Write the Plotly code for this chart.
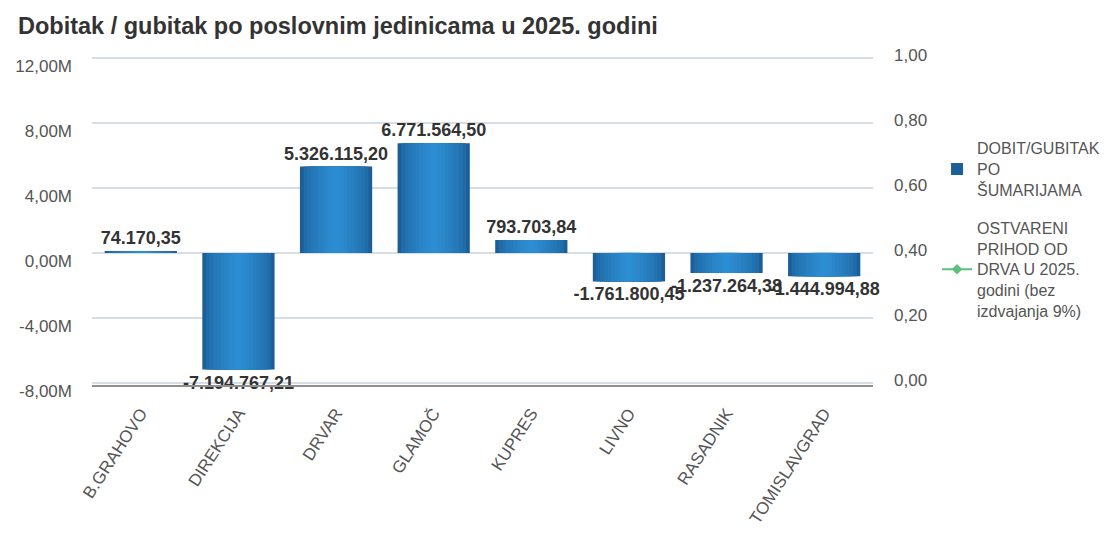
import plotly.graph_objects as go

categories = ["B.GRAHOVO", "DIREKCIJA", "DRVAR", "GLAMOČ", "KUPRES", "LIVNO", "RASADNIK", "TOMISLAVGRAD"]
profit = [74170.35, -7194767.21, 5326115.20, 6771564.50, 793703.84, -1761800.45, -1237264.38, -1444994.88]
income = [None] * len(categories)

left_ticks = [-8e6, -4e6, 0, 4e6, 8e6, 12e6]
right_ticks = [0, 0.2, 0.4, 0.6, 0.8, 1.0]

series1_name = "DOBIT/GUBITAK<br>PO<br>ŠUMARIJAMA"
series2_name = "OSTVARENI<br>PRIHOD OD<br>DRVA U 2025.<br>godini (bez<br>izdvajanja 9%)"
title = "Dobitak / gubitak po poslovnim jedinicama u 2025. godini"


def fmt_num(v):
    s = f"{v:,.2f}"
    return s.replace(",", "X").replace(".", ",").replace("X", ".")


def fmt_m(v):
    return f"{v/1e6:.2f}".replace(".", ",") + "M"


def mix(c1, c2, t):
    a = [int(c1[i:i + 2], 16) for i in (1, 3, 5)]
    b = [int(c2[i:i + 2], 16) for i in (1, 3, 5)]
    return "#" + "".join(f"{round(x + (y - x) * t):02x}" for x, y in zip(a, b))


FONT = "Liberation Sans, Arial, sans-serif"
fig = go.Figure()

# cylinder-like shading: stacked overlay bars of decreasing width
n_layers = 10
edge, centre = "#1c5f98", "#2d8dd2"
for i in range(n_layers):
    t = i / (n_layers - 1)
    w = 0.74 * (1 - t) + 0.08 * t
    c = mix(edge, centre, (t ** 0.6))
    fig.add_trace(go.Bar(
        x=categories, y=profit, width=w,
        marker=dict(color=c, line=dict(width=0)),
        name=series1_name, showlegend=(i == 0), legendgroup="g1",
        text=[fmt_num(v) for v in profit] if i == 0 else None,
        textposition="outside" if i == 0 else "none",
        textfont=dict(family=FONT, size=18, color="#333333", weight="bold"),
        constraintext="none", cliponaxis=False,
        hoverinfo="skip" if i > 0 else None,
    ))

fig.add_trace(go.Scatter(
    x=categories, y=income, yaxis="y2", mode="lines+markers",
    name=series2_name, legendgroup="g2",
    line=dict(color="#5cc07a", width=2),
    marker=dict(symbol="diamond", size=8, color="#5cc07a"),
))

pad = 0.15e6
fig.update_layout(
    width=1120, height=535,
    paper_bgcolor="white", plot_bgcolor="white",
    barmode="overlay",
    separators=",.",
    margin=dict(l=84, r=255, t=47.5, b=157.5, autoexpand=False),
    font=dict(family=FONT, size=17, color="#555555"),
    title=dict(text=title, x=10/1120, xref="container", xanchor="left",
               y=1 - 18/535, yref="container", yanchor="middle",
               font=dict(family=FONT, size=23.5, color="#333333", weight="bold")),
    xaxis=dict(
        type="category", tickangle=-57, showgrid=False, automargin=False,
        showline=True, linecolor="#8f8f8f", linewidth=1.5,
        ticks="", ticklabelstandoff=10,
        tickfont=dict(size=17, color="#555555"),
    ),
    yaxis=dict(
        range=[-8e6 - pad, 12e6 + pad], tickvals=left_ticks, automargin=False,
        ticktext=[fmt_m(v) for v in left_ticks],
        showgrid=True, gridcolor="#d5dde6", gridwidth=1.5,
        zeroline=False, ticks="", ticklabelstandoff=19, ticklabelshift=8,
        tickfont=dict(size=17, color="#555555"),
    ),
    yaxis2=dict(
        overlaying="y", side="right", range=[-pad / 20e6, 1 + pad / 20e6], automargin=False,
        tickvals=right_ticks, tickformat=".2f",
        showgrid=False, zeroline=False, ticks="", ticklabelstandoff=20, ticklabelshift=-3,
        tickfont=dict(size=17, color="#555555"),
    ),
    legend=dict(
        x=1.082, y=0.771, xanchor="left", yanchor="top",
        font=dict(family=FONT, size=16, color="#555555"),
        tracegroupgap=14, bgcolor="rgba(0,0,0,0)",
    ),
    showlegend=True,
)

fig.write_html("out.html")
